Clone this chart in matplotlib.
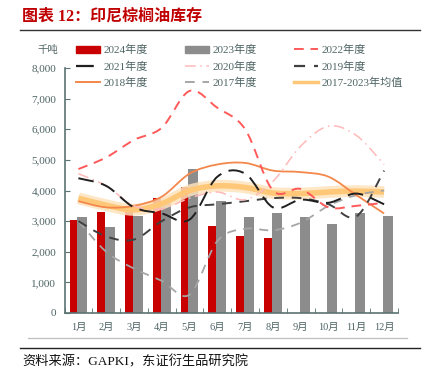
import matplotlib
matplotlib.use("Agg")
import matplotlib.pyplot as plt
import numpy as np
from matplotlib.path import Path
from matplotlib.patches import PathPatch, Patch
from matplotlib.lines import Line2D

plt.rcParams['font.family'] = ['Liberation Serif', 'Noto Sans CJK SC']

# data (thousand tonnes)
months = ['1月', '2月', '3月', '4月', '5月', '6月', '7月', '8月', '9月', '10月', '11月', '12月']
y2024 = [3040, 3290, 3290, 3750, 4110, 2830, 2520, 2460]
y2023 = [3130, 2800, 3170, 3650, 4710, 3650, 3150, 3270, 3130, 2910, 3250, 3170]
y2022 = [4700, 5080, 5650, 6050, 7250, 6700, 6000, 4000, 4050, 3450, 3500, 3600]
y2021 = [4400, 4150, 3450, 3250, 3050, 4450, 4550, 3450, 3700, 3600, 3900, 3550]
y2020 = [4550, 4150, 3500, 3400, 3750, 3950, 3700, 4300, 5450, 6100, 5800, 4850]
y2019 = [3000, 2500, 2400, 3000, 3450, 3550, 3650, 3750, 3750, 3550, 3150, 4650]
y2018 = [3650, 3450, 3500, 3800, 4550, 4850, 4900, 4650, 4600, 4450, 3850, 3250]
y2017 = [3000, 2000, 1450, 1050, 600, 2350, 2750, 2700, 2950, 3500, 3850, 4000]
avg = [3750, 3520, 3370, 3570, 4000, 4150, 4100, 3920, 3900, 3950, 3980, 3950]

axis_col = '#5B7373'
text_col = '#4F6464'


def smooth_path(xs, ys):
    # Bezier path through the points (like Excel's smoothed line)
    pts = np.column_stack([xs, ys]).astype(float)
    n = len(pts)
    verts = [pts[0]]
    codes = [Path.MOVETO]
    for i in range(n - 1):
        p0 = pts[i - 1] if i > 0 else pts[i]
        p1, p2 = pts[i], pts[i + 1]
        p3 = pts[i + 2] if i + 2 < n else pts[i + 1]
        verts += [p1 + (p2 - p0) / 6, p2 - (p3 - p1) / 6, p2]
        codes += [Path.CURVE4] * 3
    return Path(verts, codes)


def smooth_line(ax, ys, **kw):
    xs = np.arange(len(ys))
    ax.add_patch(PathPatch(smooth_path(xs, ys), facecolor='none', **kw))


fig = plt.figure(figsize=(4.23, 3.77), dpi=100)
ax = fig.add_axes([64.5 / 423, 1 - 313 / 377, (398 - 64.5) / 423, (313 - 68) / 377])

x = np.arange(len(months))
ax.bar(np.arange(len(y2024)) - 0.18, y2024, width=0.28, color='#C80000', zorder=2)
ax.bar(x + 0.14, y2023, width=0.36, color='#8C8C8C', zorder=2)

# average band with soft glow
smooth_line(ax, avg, edgecolor='#FDE3BD', lw=8.5, alpha=0.85, zorder=3)
smooth_line(ax, avg, edgecolor='#FFC878', lw=4, zorder=3)

smooth_line(ax, y2017, edgecolor='#A6A6A6', lw=1.3, linestyle=(0, (5, 4)), zorder=4)
smooth_line(ax, y2018, edgecolor='#F4874B', lw=1.3, zorder=4)
smooth_line(ax, y2019, edgecolor='#404040', lw=1.4, linestyle=(0, (5, 4)), zorder=4)
smooth_line(ax, y2020, edgecolor='#FFB9B9', lw=1.1, linestyle=(0, (7, 3, 1, 3)), zorder=4)
smooth_line(ax, y2021, edgecolor='#1F1F1F', lw=1.4, linestyle=(0, (8, 4)), zorder=4)
smooth_line(ax, y2022, edgecolor='#FF5A5A', lw=1.4, linestyle=(0, (5, 3.5)), zorder=4)

ax.set_xlim(-0.5, 11.5)
ax.set_ylim(0, 8000)
ax.set_yticks(range(0, 8001, 1000))
ax.set_yticklabels([f'{v:,}' for v in range(0, 8001, 1000)])
ax.set_xticks(x)
ax.set_xticklabels(months)
ax.set_xticks(np.arange(-0.5, 12, 1), minor=True)
ax.tick_params(axis='x', which='major', length=0, pad=7, labelsize=7.5, labelcolor=text_col)
ax.tick_params(axis='x', which='minor', direction='in', length=3.5, color=axis_col)
ax.tick_params(axis='y', direction='in', length=3.5, color=axis_col, labelsize=8,
               labelcolor=text_col, pad=6)
for s in ['top', 'right']:
    ax.spines[s].set_visible(False)
ax.spines['left'].set_color(axis_col)
ax.spines['bottom'].set_color(axis_col)
ax.spines['left'].set_linewidth(1.2)
ax.spines['bottom'].set_linewidth(1.2)

# legend (column-major order for matplotlib)
h = {
    '2024年度': Patch(color='#C80000'),
    '2023年度': Patch(color='#8C8C8C'),
    '2022年度': Line2D([], [], color='#FF5A5A', lw=1.4, linestyle=(0, (5, 3.5))),
    '2021年度': Line2D([], [], color='#1F1F1F', lw=1.6, linestyle=(0, (8, 4))),
    '2020年度': Line2D([], [], color='#FFB9B9', lw=1.1, linestyle=(0, (7, 3, 1, 3))),
    '2019年度': Line2D([], [], color='#404040', lw=1.6, linestyle=(0, (5, 4))),
    '2018年度': Line2D([], [], color='#F4874B', lw=1.4),
    '2017年度': Line2D([], [], color='#A6A6A6', lw=1.4, linestyle=(0, (5, 4))),
    '2017-2023年均值': Line2D([], [], color='#FFC878', lw=2.5),
}
order = ['2024年度', '2021年度', '2018年度', '2023年度', '2020年度', '2017年度',
         '2022年度', '2019年度', '2017-2023年均值']
fig.legend([h[k] for k in order], order, ncol=3, loc='upper left',
           bbox_to_anchor=(76 / 423, 1 - 45 / 377), frameon=False, fontsize=8,
           handlelength=2.2, handleheight=0.7, handletextpad=0.3, columnspacing=3.3,
           labelspacing=0.55, borderpad=0, borderaxespad=0, labelcolor=text_col)

fig.text(37 / 423, 1 - 50 / 377, '千吨', fontsize=7.5, color=text_col, va='center')

# title and frame lines
fig.text(22 / 423, 1 - 17 / 377, '图表 12：印尼棕榈油库存', fontsize=11.5, color='#C00000',
         fontweight='bold', va='center')
fig.add_artist(Line2D([20 / 423, 420 / 423], [1 - 29.5 / 377] * 2, color='#333333', lw=1))
fig.add_artist(Line2D([28 / 423, 407 / 423], [1 - 338 / 377] * 2, color='#BFBFBF', lw=0.9))
fig.add_artist(Line2D([20 / 423, 420 / 423], [1 - 348 / 377] * 2, color='#222222', lw=1))
fig.text(22 / 423, 1 - 362 / 377, '资料来源：GAPKI，东证衍生品研究院', fontsize=9.5,
         color='#111111', va='center')

fig.savefig('out.png', dpi=100)
